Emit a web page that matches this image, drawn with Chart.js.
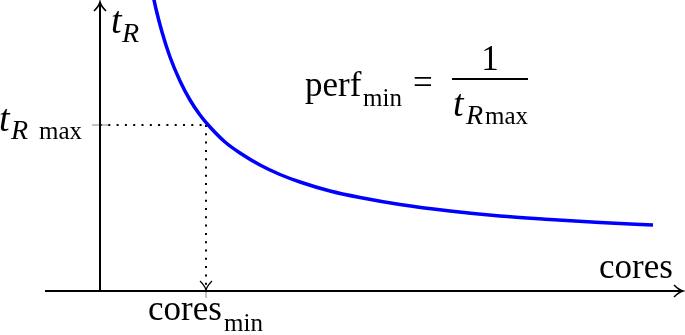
<!DOCTYPE html>
<html>
<head>
<meta charset="utf-8">
<script src="https://cdn.jsdelivr.net/npm/chart.js@4"></script>
<style>
  html, body { margin: 0; padding: 0; background: #fff; }
  #wrap { width: 685px; height: 335px; }
</style>
</head>
<body>
<div id="wrap"><canvas id="myChart"></canvas></div>
<script>
// values (arbitrary units)
const cores = [5.2, 5.6, 6.2, 7.0, 8.0, 9.0, 10.0, 11.0, 12.5, 14, 16, 18, 20, 23, 26, 30, 35, 40, 45, 50, 55.3];
const tR = [30.05, 28.2, 25.9, 23.4, 21.0, 19.1, 17.6, 16.4, 14.9, 13.8, 12.6, 11.65, 10.9, 10.0, 9.35, 8.65, 8.0, 7.5, 7.16, 6.86, 6.6];
const coresMin = 10.6;
const tRmax = 16.6;
const xRange = [-5.5, 58.5];
const yRange = [0, 29.1];

const SERIF = '"Liberation Serif", "DejaVu Serif", serif';

function barb(ctx, x, y, dir) {
    // latex style arrow head, tip at (x,y), dir = 'up' | 'right' | 'down'
    ctx.save();
    ctx.translate(x, y);
    if (dir === 'right') ctx.rotate(Math.PI / 2);
    if (dir === 'down') ctx.rotate(Math.PI);
    ctx.beginPath();
    ctx.moveTo(-6, 9);
    ctx.quadraticCurveTo(-1, 4, 0, 0);
    ctx.quadraticCurveTo(1, 4, 6, 9);
    ctx.stroke();
    ctx.restore();
}

const axesPlugin = {
    id: 'axesPlugin',
    afterDatasetsDraw(chart) {
        const ctx = chart.ctx;
        const x = chart.scales.x, y = chart.scales.y;
        const x0 = x.getPixelForValue(0);
        const y0 = y.getPixelForValue(0);
        const xm = x.getPixelForValue(coresMin);
        const ym = y.getPixelForValue(tRmax);

        ctx.save();
        // little grey ticks
        ctx.strokeStyle = '#888';
        ctx.lineWidth = 1;
        ctx.beginPath();
        ctx.moveTo(x0 - 8, ym); ctx.lineTo(x0 + 8, ym);
        ctx.moveTo(xm, y0 - 2); ctx.lineTo(xm, y0 + 7);
        ctx.stroke();

        // axes
        ctx.strokeStyle = '#000';
        ctx.lineWidth = 2;
        ctx.beginPath();
        ctx.moveTo(x0, y0); ctx.lineTo(x0, chart.chartArea.top + 2);
        ctx.moveTo(chart.chartArea.left, y0); ctx.lineTo(chart.chartArea.right - 2, y0);
        ctx.stroke();
        ctx.lineWidth = 1.6;
        barb(ctx, x0, chart.chartArea.top + 2, 'up');
        barb(ctx, chart.chartArea.right - 2, y0, 'right');
        ctx.lineWidth = 1.2;
        barb(ctx, xm, y0 - 1, 'down');

        // labels
        ctx.fillStyle = '#000';
        ctx.textBaseline = 'alphabetic';
        ctx.textAlign = 'left';

        ctx.font = 'italic 38px ' + SERIF;
        ctx.fillText('t', 111, 33);
        ctx.font = 'italic 28px ' + SERIF;
        ctx.fillText('R', 122, 42);

        ctx.font = 'italic 38px ' + SERIF;
        ctx.fillText('t', -1, 131);
        ctx.font = 'italic 28px ' + SERIF;
        ctx.fillText('R', 11, 139);
        ctx.font = '25px ' + SERIF;
        ctx.fillText('max', 39, 139);

        ctx.font = '35px ' + SERIF;
        ctx.fillText('cores', 599, 278);
        ctx.fillText('cores', 148, 320);
        ctx.font = '25px ' + SERIF;
        ctx.fillText('min', 224, 331);

        // perf_min = 1 / t_Rmax
        ctx.font = '35px ' + SERIF;
        ctx.fillText('perf', 305, 96);
        ctx.font = '25px ' + SERIF;
        ctx.fillText('min', 363, 106);
        ctx.font = '35px ' + SERIF;
        ctx.fillText('=', 413, 94);
        ctx.textAlign = 'center';
        ctx.fillText('1', 490, 70);
        ctx.lineWidth = 1.8;
        ctx.beginPath();
        ctx.moveTo(452, 79); ctx.lineTo(528, 79);
        ctx.stroke();
        ctx.textAlign = 'left';
        ctx.font = 'italic 38px ' + SERIF;
        ctx.fillText('t', 453, 116);
        ctx.font = 'italic 28px ' + SERIF;
        ctx.fillText('R', 466, 124);
        ctx.font = '25px ' + SERIF;
        ctx.fillText('max', 485, 124);
        ctx.restore();
    }
};

const points = cores.map((c, i) => ({ x: c, y: tR[i] }));

new Chart(document.getElementById('myChart'), {
    type: 'scatter',
    data: {
        datasets: [
            {
                label: 'tR',
                data: points,
                showLine: true,
                borderColor: '#0000ff',
                borderWidth: 3.5,
                pointRadius: 0,
                cubicInterpolationMode: 'monotone',
            },
            {
                label: 'guide h',
                data: [{ x: 0, y: tRmax }, { x: coresMin, y: tRmax }],
                showLine: true,
                borderColor: '#000',
                borderWidth: 2,
                borderDash: [2, 6.3],
                pointRadius: 0,
            },
            {
                label: 'guide v',
                data: [{ x: coresMin, y: tRmax }, { x: coresMin, y: 0.3 }],
                showLine: true,
                borderColor: '#000',
                borderWidth: 2,
                borderDash: [2, 6.3],
                pointRadius: 0,
            },
        ],
    },
    options: {
        responsive: true,
        maintainAspectRatio: false,
        animation: false,
        layout: { padding: { left: 45, right: 0, top: 0, bottom: 44 } },
        plugins: {
            legend: { display: false },
            tooltip: { enabled: false },
        },
        scales: {
            x: { type: 'linear', min: xRange[0], max: xRange[1], display: false },
            y: { type: 'linear', min: yRange[0], max: yRange[1], display: false },
        },
    },
    plugins: [axesPlugin],
});
</script>
</body>
</html>
